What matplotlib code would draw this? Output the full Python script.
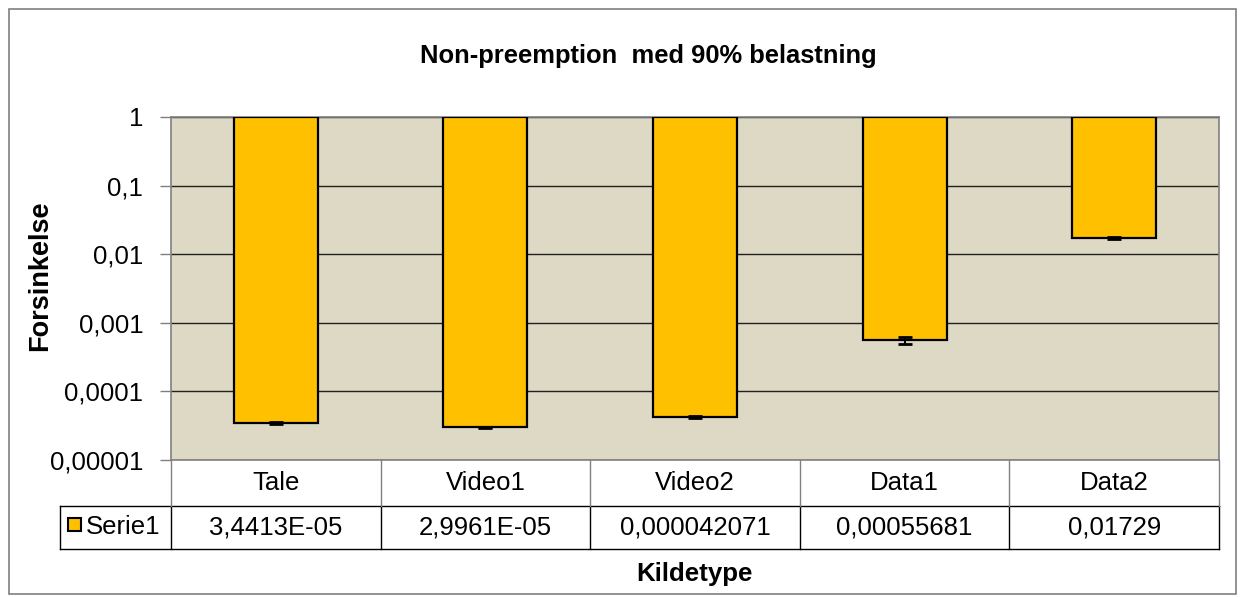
import numpy as np
import matplotlib.pyplot as plt
from matplotlib.patches import Rectangle
from matplotlib.ticker import FixedLocator, NullLocator

plt.rcParams['font.family'] = ['Liberation Sans', 'DejaVu Sans']

# data
categories = ['Tale', 'Video1', 'Video2', 'Data1', 'Data2']
values = [3.4413e-05, 2.9961e-05, 0.000042071, 0.00055681, 0.01729]
value_labels = ['3,4413E-05', '2,9961E-05', '0,000042071', '0,00055681', '0,01729']
errors = [1.0e-06, 8.0e-07, 1.0e-06, 7.0e-05, 6.0e-04]
yticks = [1, 0.1, 0.01, 0.001, 0.0001, 0.00001]
ytick_labels = ['1', '0,1', '0,01', '0,001', '0,0001', '0,00001']
series_name = 'Serie1'

W, H = 1245, 597
fig = plt.figure(figsize=(W / 100, H / 100), dpi=100)


def fx(px):
    return px / W


def fy(py):
    return 1 - py / H


# outer chart frame
fig.patches.append(Rectangle((fx(9), fy(594)), fx(1236) - fx(9), fy(9) - fy(594),
                             transform=fig.transFigure, fill=False,
                             edgecolor='#7f7f7f', linewidth=1.2))

left, right, top, bottom = 171, 1219, 117, 460
ax = fig.add_axes([fx(left), fy(bottom), fx(right) - fx(left), fy(top) - fy(bottom)])
ax.set_facecolor('#DDD9C4')
ax.set_yscale('log')
ax.set_ylim(1e-5, 1)
ax.set_xlim(-0.5, len(categories) - 0.5)

x = np.arange(len(categories))
heights = [1 - v for v in values]
ax.bar(x, heights, bottom=values, width=0.4, color='#FFC000', edgecolor='black',
       linewidth=1.6, zorder=3)
ax.errorbar(x, values, yerr=errors, fmt='none', ecolor='black', elinewidth=1.5,
            capsize=5, capthick=2, zorder=4)

ax.yaxis.set_major_locator(FixedLocator(yticks))
ax.yaxis.set_minor_locator(NullLocator())
ax.set_yticklabels(ytick_labels, fontsize=18.6)
ax.tick_params(axis='y', direction='out', length=8, width=1, color='#808080', pad=12)
ax.xaxis.set_major_locator(NullLocator())
ax.grid(axis='y', color='#202020', linewidth=1, zorder=1)
for s in ax.spines.values():
    s.set_color('#808080')
    s.set_linewidth(1.2)

# data table below the plot
ph = bottom - top
r1 = 46 / ph
r2 = 43 / ph
lw = (left - 60) / (right - left)
tk = dict(transform=ax.transAxes, clip_on=False, color='black', linewidth=1)
ax.plot([-lw, 1], [-r1, -r1], **tk)
ax.plot([-lw, 1], [-r1 - r2, -r1 - r2], **tk)
ax.plot([-lw, -lw], [-r1, -r1 - r2], **tk)
n = len(categories)
for i in range(n + 1):
    ax.plot([i / n, i / n], [-r1, -r1 - r2], **tk)
    ax.plot([i / n, i / n], [0, -r1], transform=ax.transAxes, clip_on=False,
            color='#808080', linewidth=1)
for i, (c, lab) in enumerate(zip(categories, value_labels)):
    ax.text((i + 0.5) / n, -r1 / 2, c, transform=ax.transAxes, ha='center',
            va='center', fontsize=18.5)
    ax.text((i + 0.5) / n, -r1 - r2 / 2, lab, transform=ax.transAxes, ha='center',
            va='center', fontsize=18.5)

fig.patches.append(Rectangle((fx(68), fy(531)), fx(81) - fx(68), fy(518) - fy(531),
                             transform=fig.transFigure, facecolor='#FFC000',
                             edgecolor='black', linewidth=1.5))
fig.text(fx(86), fy(527.5), series_name, ha='left', va='center', fontsize=18.5)

fig.text(fx(648), fy(56), 'Non-preemption  med 90% belastning', ha='center',
         va='center', fontsize=18.4, fontweight='bold')
fig.text(fx(40), fy(276), 'Forsinkelse', ha='center', va='center', rotation=90,
         fontsize=19.5, fontweight='bold')
fig.text(fx(694), fy(574), 'Kildetype', ha='center', va='center', fontsize=18.6,
         fontweight='bold')

fig.savefig('out.png', dpi=100)
